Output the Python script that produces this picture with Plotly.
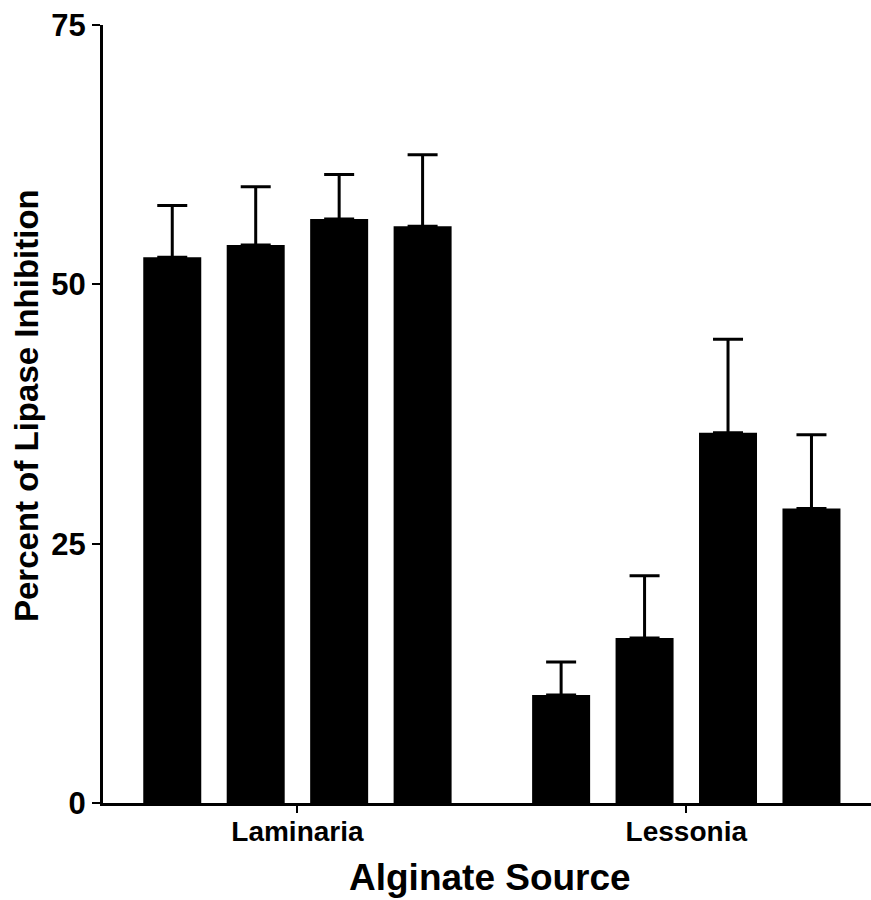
import plotly.graph_objects as go

# Alginate sources (x categories)
sources = ["Laminaria", "Lessonia"]

# Mean percent lipase inhibition for the four alginates of each source
series_1 = [52.6, 10.4]
series_2 = [53.8, 15.9]
series_3 = [56.3, 35.7]
series_4 = [55.6, 28.4]

# Upper error (SD) for each bar
err_1 = [5.0, 3.2]
err_2 = [5.6, 6.0]
err_3 = [4.3, 9.0]
err_4 = [6.9, 7.1]

y_ticks = [0, 25, 50, 75]

FONT = "Liberation Sans, Arial, Helvetica, sans-serif"

fig = go.Figure()
for vals, errs in [(series_1, err_1), (series_2, err_2),
                   (series_3, err_3), (series_4, err_4)]:
    fig.add_trace(go.Bar(
        x=sources,
        y=vals,
        marker=dict(color="black", line=dict(width=0)),
        error_y=dict(type="data", array=errs, arrayminus=[0] * len(errs),
                     symmetric=False, color="black", thickness=3, width=15),
        showlegend=False,
    ))

fig.update_layout(
    width=871,
    height=900,
    margin=dict(l=103, r=0, t=25, b=97),
    paper_bgcolor="white",
    plot_bgcolor="white",
    barmode="group",
    bargap=0.1416,
    bargroupgap=0.305,
    font=dict(family=FONT, color="black"),
    xaxis=dict(
        range=[-0.5, 1.475],
        showline=True, linecolor="black", linewidth=3,
        ticks="outside", ticklen=7, tickwidth=2, tickcolor="black",
        tickfont=dict(family=FONT, size=28, weight="bold", color="black"),
        ticklabelstandoff=-6,
        showgrid=False, zeroline=False,
    ),
    yaxis=dict(
        range=[0, 75],
        tickvals=y_ticks,
        showline=True, linecolor="black", linewidth=3,
        ticks="outside", ticklen=8, tickwidth=2, tickcolor="black",
        tickfont=dict(family=FONT, size=31, weight="bold", color="black"),
        ticklabelstandoff=0,
        showgrid=False, zeroline=False,
    ),
    annotations=[
        dict(text="Alginate Source", xref="paper", yref="paper",
             x=0.5, y=0, xanchor="center", yanchor="middle",
             xshift=3, yshift=-74, showarrow=False,
             font=dict(family=FONT, size=37, weight="bold", color="black")),
        dict(text="Percent of Lipase Inhibition", xref="paper", yref="paper",
             x=0, y=0.5, xanchor="center", yanchor="middle",
             xshift=-77, yshift=8, textangle=-90, showarrow=False,
             font=dict(family=FONT, size=33, weight="bold", color="black")),
    ],
)

fig.write_html("out.html")
